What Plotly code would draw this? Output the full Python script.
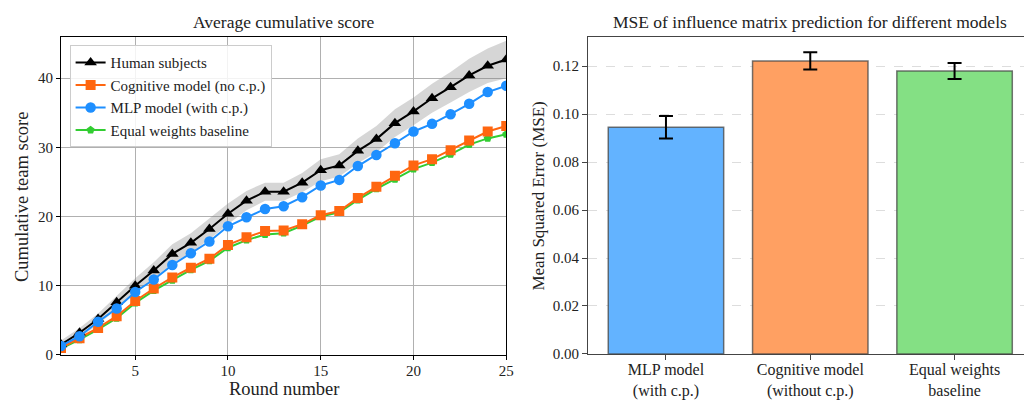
import plotly.graph_objects as go

rounds = list(range(1, 26))
human = [1.5, 3.2, 5.2, 7.6, 10.0, 12.2, 14.6, 16.2, 18.2, 20.4, 22.3, 23.6, 23.6, 24.9, 26.7,
         27.4, 29.5, 31.2, 33.5, 35.2, 37.1, 38.7, 40.4, 41.8, 42.7]
human_err = [0.6, 0.7, 0.8, 1.0, 1.1, 1.2, 1.4, 1.4, 1.5, 1.5, 1.4, 1.3, 1.3, 1.4, 1.6,
             1.6, 1.8, 1.9, 2.0, 2.0, 2.1, 2.2, 2.4, 2.5, 2.7]
cognitive = [1.0, 2.4, 3.9, 5.6, 7.8, 9.6, 11.2, 12.6, 13.9, 15.9, 17.0, 17.9, 18.0, 18.9, 20.2,
             20.8, 22.7, 24.3, 25.9, 27.4, 28.3, 29.6, 31.0, 32.3, 33.1]
mlp = [1.3, 2.7, 4.8, 6.7, 9.1, 10.9, 13.0, 14.7, 16.4, 18.6, 19.9, 21.1, 21.5, 22.8, 24.5,
       25.3, 27.3, 28.9, 30.6, 32.3, 33.4, 34.8, 36.3, 38.0, 38.9]
equal = [0.9, 2.2, 3.7, 5.3, 7.5, 9.3, 10.8, 12.3, 13.6, 15.5, 16.6, 17.4, 17.6, 18.7, 20.0,
         20.6, 22.4, 24.0, 25.4, 26.85, 27.8, 29.0, 30.4, 31.3, 31.9]

models = ["MLP model<br>(with c.p.)", "Cognitive model<br>(without c.p.)", "Equal weights<br>baseline"]
mse = [0.0945, 0.1222, 0.1180]
mse_err = [0.0047, 0.0036, 0.0033]

FONT = "Liberation Serif, Times New Roman, serif"
TXT = "#222222"
fig = go.Figure()

upper = [m + e for m, e in zip(human, human_err)]
lower = [m - e for m, e in zip(human, human_err)]
fig.add_trace(go.Scatter(x=rounds + rounds[::-1], y=upper + lower[::-1], fill="toself",
                         fillcolor="rgba(128,128,128,0.32)", line=dict(width=0),
                         showlegend=False, hoverinfo="skip", xaxis="x", yaxis="y"))

series = [
    ("Equal weights baseline", equal, "#32cd32", "pentagon", 4, 8.5),
    ("Cognitive model (no c.p.)", cognitive, "#ff6610", "square", 2, 10),
    ("Human subjects", human, "black", "triangle-up", 1, 11),
    ("MLP model (with c.p.)", mlp, "#1e8fff", "circle", 3, 10.5),
]
for name, ys, col, sym, rank, ms in series:
    fig.add_trace(go.Scatter(x=rounds, y=ys, mode="lines+markers", name=name,
                             line=dict(color=col, width=2),
                             marker=dict(symbol=sym, size=ms, color=col),
                             legendrank=rank, xaxis="x", yaxis="y"))

fig.add_trace(go.Bar(x=[0, 1, 2], y=mse, width=0.8,
                     marker=dict(color=["#63b3ff", "#ffa062", "#84e084"],
                                 line=dict(color="rgba(70,70,70,0.75)", width=1.5)),
                     error_y=dict(type="data", array=mse_err, color="black", thickness=2, width=7),
                     showlegend=False, xaxis="x2", yaxis="y2"))

tickfont = dict(family=FONT, size=15, color=TXT)
fig.update_layout(
    width=1032, height=400,
    margin=dict(l=0, r=0, t=0, b=0),
    paper_bgcolor="white", plot_bgcolor="white",
    font=dict(family=FONT, size=15, color=TXT),
    showlegend=True,
    legend=dict(x=0.0601, y=0.905, xanchor="left", yanchor="top",
                bgcolor="rgba(255,255,255,0.85)", bordercolor="#cccccc", borderwidth=1,
                font=dict(family=FONT, size=15, color=TXT), tracegroupgap=0),
    xaxis=dict(domain=[0.0517, 0.4861], range=[1, 25], tickvals=[5, 10, 15, 20, 25],
               showgrid=True, gridcolor="#b0b0b0", gridwidth=1, zeroline=False,
               showline=True, linecolor="black", linewidth=1.2, mirror=True,
               ticks="outside", ticklen=4, tickcolor="black", tickfont=tickfont,
               ticklabelstandoff=-2, anchor="y"),
    yaxis=dict(domain=[0.115, 0.925], range=[0, 45.9], tickvals=[0, 10, 20, 30, 40],
               showgrid=True, gridcolor="#b0b0b0", gridwidth=1, zeroline=False,
               showline=True, linecolor="black", linewidth=1.2, mirror=True,
               ticks="outside", ticklen=4, tickcolor="black", tickfont=tickfont, anchor="x"),
    xaxis2=dict(domain=[0.5659, 0.9995], range=[-0.54, 2.54], tickvals=[0, 1, 2], ticktext=models,
                showgrid=False, zeroline=False, showline=True, linecolor="#444", linewidth=1.2,
                mirror=True, ticks="outside", ticklen=5, tickcolor="#444",
                tickfont=dict(family=FONT, size=16, color=TXT), ticklabelstandoff=-4,
                anchor="y2"),
    yaxis2=dict(domain=[0.1175, 0.925], range=[0, 0.132],
                tickvals=[0, 0.02, 0.04, 0.06, 0.08, 0.10, 0.12], tickformat=".2f",
                showgrid=True, gridcolor="#dddddd", griddash="dash", gridwidth=1, zeroline=False,
                showline=True, linecolor="#444", linewidth=1.2, mirror=True,
                ticks="outside", ticklen=5, tickcolor="#444", tickfont=tickfont, anchor="x2"),
    annotations=[
        dict(text="Average cumulative score", x=0.2689, y=0.995, xref="paper", yref="paper",
             xanchor="center", yanchor="top", showarrow=False,
             font=dict(family=FONT, size=17.5, color=TXT)),
        dict(text="MSE of influence matrix prediction for different models", x=0.7825, y=0.995,
             xref="paper", yref="paper", xanchor="center", yanchor="top", showarrow=False,
             font=dict(family=FONT, size=17.5, color=TXT)),
        dict(text="Round number", x=0.2689, y=0.027, xref="paper", yref="paper",
             xanchor="center", yanchor="middle", showarrow=False,
             font=dict(family=FONT, size=18.5, color=TXT)),
        dict(text="Cumulative team score", x=14 / 1032, y=0.52, xref="paper", yref="paper",
             xanchor="center", yanchor="middle", textangle=-90, showarrow=False,
             font=dict(family=FONT, size=18.5, color=TXT)),
        dict(text="Mean Squared Error (MSE)", x=534 / 1032, y=0.52, xref="paper", yref="paper",
             xanchor="center", yanchor="middle", textangle=-90, showarrow=False,
             font=dict(family=FONT, size=17, color=TXT)),
    ],
)

fig.write_html("out.html")
